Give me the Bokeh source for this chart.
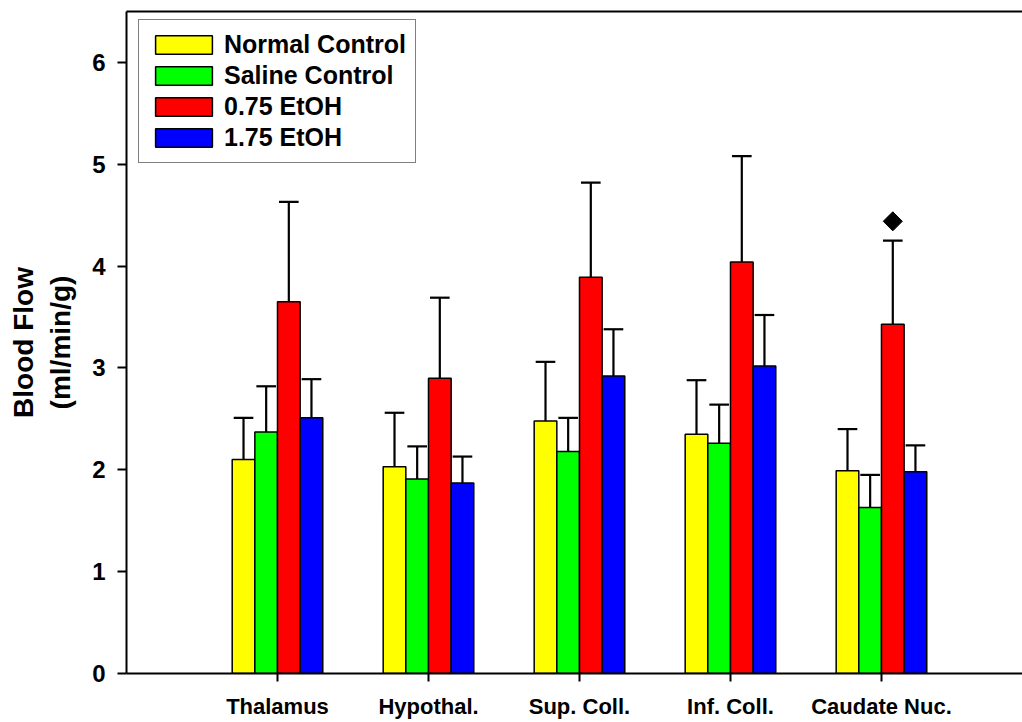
import math
from bokeh.plotting import figure
from bokeh.models import (ColumnDataSource, FixedTicker, LinearAxis, Legend,
                          LegendItem, Range1d)
from bokeh.embed import file_html
from bokeh.resources import INLINE

# Regions and treatment groups
regions = ["Thalamus", "Hypothal.", "Sup. Coll.", "Inf. Coll.", "Caudate Nuc."]
groups = ["Normal Control", "Saline Control", "0.75 EtOH", "1.75 EtOH"]
colors = ["#ffff00", "#00ff00", "#ff0000", "#0000ff"]

# Mean blood flow (ml/min/g) per region, one list per group
normal_control = [2.10, 2.03, 2.48, 2.35, 1.99]
saline_control = [2.37, 1.91, 2.18, 2.26, 1.63]
etoh_075 = [3.65, 2.90, 3.89, 4.04, 3.43]
etoh_175 = [2.51, 1.87, 2.92, 3.02, 1.98]

# Upper error (SEM) per region, one list per group
normal_err = [0.41, 0.53, 0.58, 0.53, 0.41]
saline_err = [0.45, 0.32, 0.33, 0.38, 0.32]
etoh_075_err = [0.98, 0.79, 0.93, 1.04, 0.82]
etoh_175_err = [0.38, 0.26, 0.46, 0.50, 0.26]

# Significance marker: region index, group index, height
marker_region = [4]
marker_group = [2]
marker_y = [4.44]

y_ticks = [0, 1, 2, 3, 4, 5, 6]

means = [normal_control, saline_control, etoh_075, etoh_175]
errs = [normal_err, saline_err, etoh_075_err, etoh_175_err]

bar_w = 0.15
offsets = [-1.5 * bar_w, -0.5 * bar_w, 0.5 * bar_w, 1.5 * bar_w]
cap_half = 0.065
centers = list(range(1, len(regions) + 1))

p = figure(width=1022, height=722, output_backend="svg", toolbar_location=None,
           x_range=Range1d(0, 5.934), y_range=Range1d(0, 6.5),
           min_border_left=126, min_border_right=0, min_border_top=11,
           min_border_bottom=49)
p.background_fill_color = "white"
p.border_fill_color = "white"
p.outline_line_color = None
p.grid.visible = False

legend_items = []
for g, (vals, ev, col, name) in enumerate(zip(means, errs, colors, groups)):
    xs = [c + offsets[g] for c in centers]
    tops = [v + e for v, e in zip(vals, ev)]
    src = ColumnDataSource(dict(x=xs, top=vals, up=tops,
                                cl=[x - cap_half for x in xs],
                                cr=[x + cap_half for x in xs]))
    p.segment(x0="x", y0="top", x1="x", y1="up", source=src,
              line_color="black", line_width=2.2)
    p.segment(x0="cl", y0="up", x1="cr", y1="up", source=src,
              line_color="black", line_width=2.2)
    r = p.vbar(x="x", top="top", bottom=0, width=bar_w, source=src,
               fill_color=col, line_color="black", line_width=1.5)
    legend_items.append(LegendItem(label=name, renderers=[r]))

# Diamond marker above the flagged bar
mx = [centers[i] + offsets[g] for i, g in zip(marker_region, marker_group)]
p.scatter(x=mx, y=marker_y, marker="square", angle=math.pi / 4, size=13.5,
          fill_color="black", line_color="black")

# Axes
font = "Liberation Sans"
xa = p.xaxis[0]
xa.ticker = FixedTicker(ticks=centers)
xa.major_label_overrides = {c: r for c, r in zip(centers, regions)}
xa.minor_tick_line_color = None
xa.major_tick_out = 8
xa.major_tick_in = 0
xa.axis_line_width = 2
xa.major_tick_line_width = 2
xa.major_label_text_font = font
xa.major_label_text_font_style = "bold"
xa.major_label_text_font_size = "22px"
xa.major_label_text_color = "black"
xa.major_label_standoff = 12

ya = p.yaxis[0]
ya.ticker = FixedTicker(ticks=y_ticks)
ya.minor_tick_line_color = None
ya.major_tick_out = 9
ya.major_tick_in = 0
ya.axis_line_width = 2
ya.major_tick_line_width = 2
ya.major_label_text_font = font
ya.major_label_text_font_style = "bold"
ya.major_label_text_font_size = "24px"
ya.major_label_text_color = "black"
ya.major_label_standoff = 12
ya.axis_label = "Blood Flow\n(ml/min/g)"
ya.axis_label_text_font = font
ya.axis_label_text_font_style = "bold"
ya.axis_label_text_font_size = "28px"
ya.axis_label_text_color = "black"
ya.axis_label_standoff = 13

# Top frame line
top = LinearAxis(major_tick_line_color=None, minor_tick_line_color=None,
                 major_label_text_font_size="0px", axis_line_width=2,
                 ticker=FixedTicker(ticks=[]))
p.add_layout(top, "above")

# Legend swatches are drawn inset by 10% of the glyph box
legend = Legend(items=legend_items, location=(12, 510),
                glyph_width=71, glyph_height=23, label_height=31,
                spacing=0, padding=9, margin=0, label_standoff=5,
                label_text_font=font, label_text_font_style="bold",
                label_text_font_size="25px", label_text_color="black",
                border_line_color="black", border_line_width=1.5,
                background_fill_alpha=1)
p.add_layout(legend, "center")

open("out.html", "w").write(file_html(p, INLINE))
